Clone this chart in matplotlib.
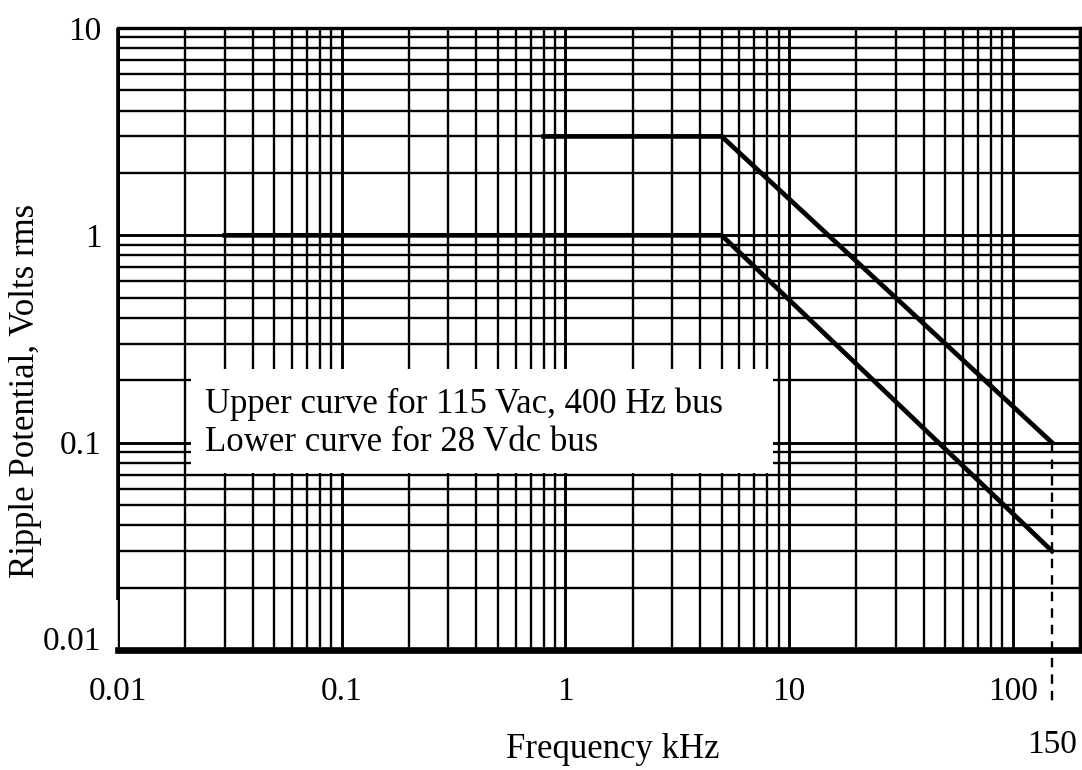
import numpy as np
import matplotlib
matplotlib.use("Agg")
import matplotlib.pyplot as plt
import matplotlib.transforms as mtransforms
from matplotlib.ticker import LogLocator, NullFormatter
from matplotlib.patches import Rectangle

plt.rcParams['font.family'] = ['Liberation Serif', 'DejaVu Serif']

# curves (kHz, volts rms)
upper_khz = [0.8, 5, 150]
upper_volts = [3, 3, 0.1]
lower_khz = [0.03, 5, 150]
lower_volts = [1, 1, 0.03]
cutoff_khz = 150

x_ticks = [0.01, 0.1, 1, 10, 100]
x_labels = ['0.01', '0.1', '1', '10', '100']
y_ticks = [0.01, 0.1, 1, 10]
y_labels = ['0.01', '0.1', '1', '10']
note_lines = ['Upper curve for 115 Vac, 400 Hz bus', 'Lower curve for 28 Vdc bus']

W, H = 1082, 770
fig = plt.figure(figsize=(W / 100, H / 100), dpi=100)
ax = fig.add_axes([118 / W, 120 / H, 962 / W, 622 / H])
ax.set_xscale('log')
ax.set_yscale('log')
ax.set_xlim(0.01, 200)
ax.set_ylim(0.01, 10)

ax.set_xticks(x_ticks, x_labels)
ax.set_yticks(y_ticks, y_labels)
for axis in (ax.xaxis, ax.yaxis):
    axis.set_minor_locator(LogLocator(base=10, subs=np.arange(2, 10)))
    axis.set_minor_formatter(NullFormatter())

ax.grid(which='major', color='black', lw=2.1)
ax.grid(which='minor', color='black', lw=1.7)
ax.tick_params(which='both', length=0, labelsize=24)
ax.tick_params(axis='x', pad=19)
ax.tick_params(axis='y', pad=12)

# the 0.01 label sits a bit above the bottom line in the original
lbl = ax.yaxis.get_major_ticks()[0].label1
lbl.set_transform(lbl.get_transform() + mtransforms.ScaledTranslation(0, 0.12, fig.dpi_scale_trans))

ax.spines['bottom'].set_linewidth(4.8)
ax.spines['top'].set_linewidth(2.4)
ax.spines['right'].set_linewidth(2.4)
ax.spines['left'].set_linewidth(1.0)
ax.plot([0, 0], [0.08, 1], transform=ax.transAxes, color='black', lw=2.6,
        clip_on=False, zorder=5, solid_capstyle='butt')

# white note box hiding the grid
ax.add_patch(Rectangle((0.0759, 0.285), 0.605, 0.167, transform=ax.transAxes,
                       facecolor='white', edgecolor='none', zorder=1.8))
ax.text(0.0904, 0.381, note_lines[0], transform=ax.transAxes, fontsize=25,
        va='baseline', zorder=4)
ax.text(0.0904, 0.320, note_lines[1], transform=ax.transAxes, fontsize=25,
        va='baseline', zorder=4)

ax.plot(upper_khz, upper_volts, color='black', lw=3.4, zorder=3)
ax.plot(lower_khz, lower_volts, color='black', lw=3.4, zorder=3)

# dashed marker at 150 kHz running below the axis
ax.plot([cutoff_khz, cutoff_khz], [upper_volts[-1], 0.0055], color='black', lw=1.7,
        ls=(0, (4, 3)), clip_on=False, zorder=3)
blend = mtransforms.blended_transform_factory(ax.transData, ax.transAxes)
ax.text(cutoff_khz, -0.153, str(cutoff_khz), transform=blend, ha='center', va='center',
        fontsize=24)

fig.text(613 / W, 1 - 750 / H, 'Frequency kHz', ha='center', va='center', fontsize=25)
fig.text(26 / W, 1 - 391 / H, 'Ripple Potential, Volts rms', ha='center', va='center',
         rotation=90, fontsize=25)

fig.savefig('out.png', dpi=100)
